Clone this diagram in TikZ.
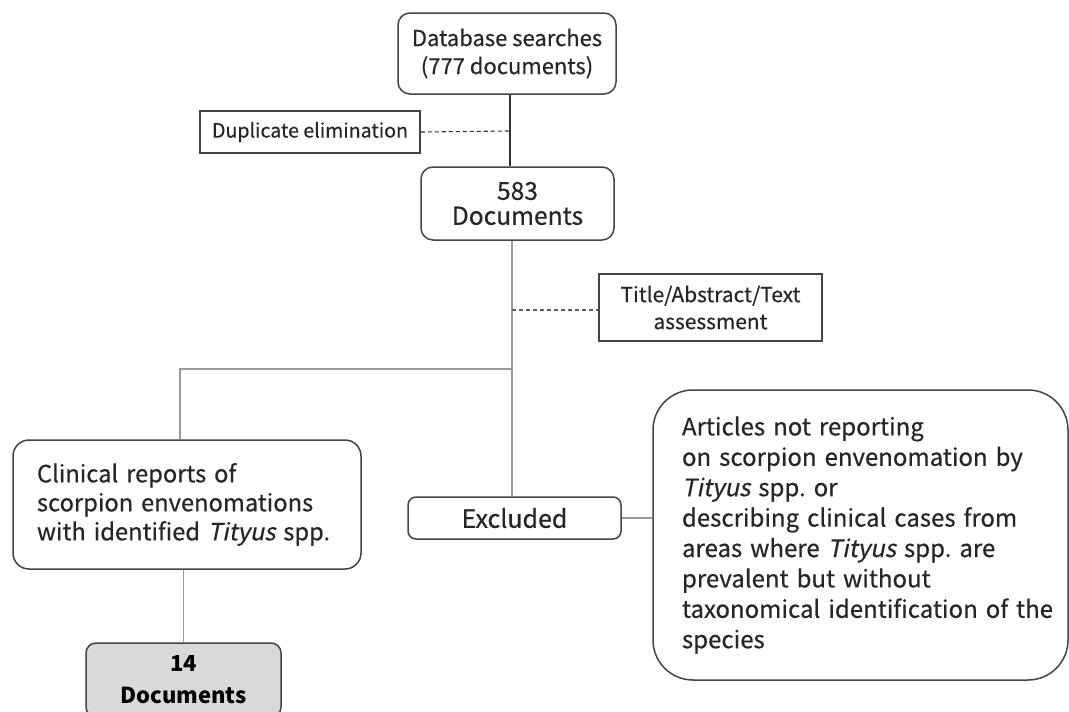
\documentclass[tikz,border=0pt]{standalone}
\usepackage{fontspec}
\setmainfont{Noto Sans CJK JP}[AutoFakeSlant=0.2, UprightFeatures={FakeBold=0.4}, ItalicFeatures={FakeBold=0.4}]
\definecolor{txtc}{HTML}{262626}
\definecolor{bordc}{HTML}{444444}
\definecolor{darkline}{HTML}{333333}
\definecolor{lightline}{HTML}{9A9A9A}
\definecolor{grayfill}{HTML}{D9D9D9}
\begin{document}
\frenchspacing
\begin{tikzpicture}[x=1pt,y=-1pt,
  boxbase/.style={draw=bordc, line width=1.5pt, inner sep=0pt, text=txtc},
  rbox/.style={boxbase, rounded corners=12pt, align=center},
  sbox/.style={boxbase, align=center},
  darkconn/.style={draw=darkline, line width=1.4pt},
  lightconn/.style={draw=lightline, line width=1.2pt},
  dashconn/.style={draw=#1, line width=1.1pt, dash pattern=on 4pt off 3pt},
]
\useasboundingbox (0,0) rectangle (1069,712);
\fill[white] (0,0) rectangle (1069,712);

\node[rbox, minimum width=218pt, minimum height=81pt,
      font=\fontsize{22}{28}\selectfont] (db) at (507,53.5)
      {Database searches\\(777 documents)};
\node[sbox, minimum width=220pt, minimum height=42pt,
      font=\fontsize{19.6}{22}\selectfont] (dup) at (310,132)
      {Duplicate elimination};
\node[rbox, minimum width=193pt, minimum height=73pt,
      font=\fontsize{24.6}{25}\selectfont] (n583) at (517.5,203.5)
      {583\\Documents};
\node[sbox, minimum width=223pt, minimum height=67pt,
      font=\fontsize{20.9}{27}\selectfont] (title) at (710.5,307.5)
      {Title/Abstract/Text\\assessment};
\node[rbox, rounded corners=8pt, minimum width=213pt, minimum height=42pt,
      font=\fontsize{25}{26}\selectfont] (excl) at (514.5,518)
      {Excluded};
\node[boxbase, rounded corners=40pt, align=left, text width=357pt,
      inner xsep=29pt, minimum height=290pt,
      font=\fontsize{24}{30.4}\selectfont] (art) at (860.5,535)
      {Articles not reporting\\on scorpion envenomation by\\\textit{Tityus} spp. or\\describing clinical cases from\\areas where \textit{Tityus} spp. are\\prevalent but without\\\mbox{taxonomical identification of the}\\species};
\node[boxbase, rounded corners=16pt, align=left, text width=300pt,
      inner xsep=24pt, minimum height=129pt,
      font=\fontsize{23.7}{29}\selectfont] (clin) at (187,504.5)
      {\rule{0pt}{8pt}Clinical reports of\\scorpion envenomations\\with identified \textit{Tityus} spp.};
\node[rbox, rounded corners=10pt, fill=grayfill, minimum width=195pt, minimum height=74pt,
      text=black, font=\fontsize{22}{32}\selectfont\bfseries] (n14) at (183.5,680)
      {14\\Documents};

\coordinate (j1) at (510,131);
\coordinate (j2) at (512,310);
\coordinate (j3) at (512,369);
\coordinate (c1) at (180,369);

\draw[darkconn] (db.south -| j1) -- (n583.north -| j1);
\draw[dashconn=darkline] (dup.east) -- (j1);
\draw[lightconn] (n583.south -| j2) -- (excl.north -| j2);
\draw[dashconn=darkline!80] (j2) -- (title.west |- j2);
\draw[lightconn] (j3) -- (c1) -- (c1 |- clin.north);
\draw[lightconn] (n14.north |- clin.south) -- (n14.north);
\draw[lightconn] (excl.east) -- (excl.east -| art.west);
\end{tikzpicture}
\end{document}
